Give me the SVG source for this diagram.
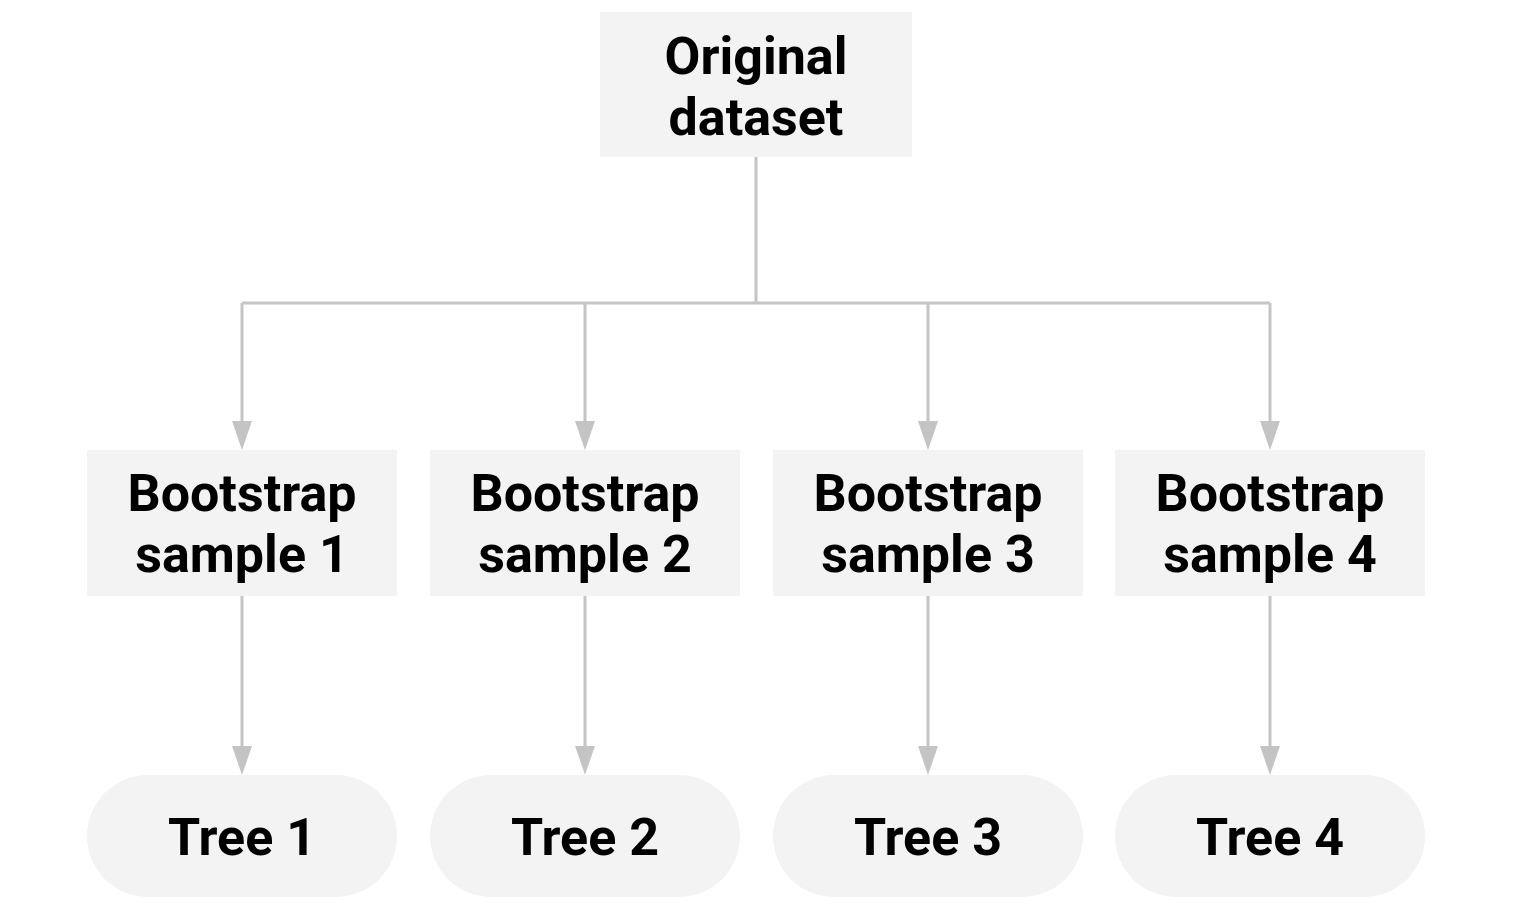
<svg xmlns="http://www.w3.org/2000/svg" width="1517" height="917" viewBox="0 0 1517 917">
<style>
.box{fill:#f3f3f3;}
.lbl{font-family:Roboto,"Liberation Sans",sans-serif;font-weight:bold;font-size:52px;fill:#000;text-anchor:middle;}
.ln{stroke:#c4c4c4;stroke-width:3;fill:none;}
.ah{fill:#c4c4c4;}
</style>
<defs>
<polygon id="arrow" class="ah" points="-10,-29 10,-29 0,0"/>
</defs>
<rect width="1517" height="917" fill="#ffffff"/>
<g id="connectors">
<path class="ln" d="M756,157 V303 M242,303 H1270"/>
<path class="ln" d="M242,303 V424 M585,303 V424 M928,303 V424 M1270,303 V424"/>
<path class="ln" d="M242,596 V749 M585,596 V749 M928,596 V749 M1270,596 V749"/>
<use href="#arrow" x="242" y="450"/>
<use href="#arrow" x="585" y="450"/>
<use href="#arrow" x="928" y="450"/>
<use href="#arrow" x="1270" y="450"/>
<use href="#arrow" x="242" y="775"/>
<use href="#arrow" x="585" y="775"/>
<use href="#arrow" x="928" y="775"/>
<use href="#arrow" x="1270" y="775"/>
</g>
<g id="original">
<rect class="box" x="600" y="12" width="312" height="145"/>
<text class="lbl" x="756" y="74">Original</text>
<text class="lbl" x="756" y="135">dataset</text>
</g>
<g id="bootstrap1">
<rect class="box" x="87" y="450" width="310" height="146"/>
<text class="lbl" x="242" y="511">Bootstrap</text>
<text class="lbl" x="242" y="572">sample 1</text>
</g>
<g id="bootstrap2">
<rect class="box" x="430" y="450" width="310" height="146"/>
<text class="lbl" x="585" y="511">Bootstrap</text>
<text class="lbl" x="585" y="572">sample 2</text>
</g>
<g id="bootstrap3">
<rect class="box" x="773" y="450" width="310" height="146"/>
<text class="lbl" x="928" y="511">Bootstrap</text>
<text class="lbl" x="928" y="572">sample 3</text>
</g>
<g id="bootstrap4">
<rect class="box" x="1115" y="450" width="310" height="146"/>
<text class="lbl" x="1270" y="511">Bootstrap</text>
<text class="lbl" x="1270" y="572">sample 4</text>
</g>
<g id="tree1">
<rect class="box" x="87" y="775" width="310" height="122" rx="61"/>
<text class="lbl" x="242" y="855">Tree 1</text>
</g>
<g id="tree2">
<rect class="box" x="430" y="775" width="310" height="122" rx="61"/>
<text class="lbl" x="585" y="855">Tree 2</text>
</g>
<g id="tree3">
<rect class="box" x="773" y="775" width="310" height="122" rx="61"/>
<text class="lbl" x="928" y="855">Tree 3</text>
</g>
<g id="tree4">
<rect class="box" x="1115" y="775" width="310" height="122" rx="61"/>
<text class="lbl" x="1270" y="855">Tree 4</text>
</g>
</svg>
